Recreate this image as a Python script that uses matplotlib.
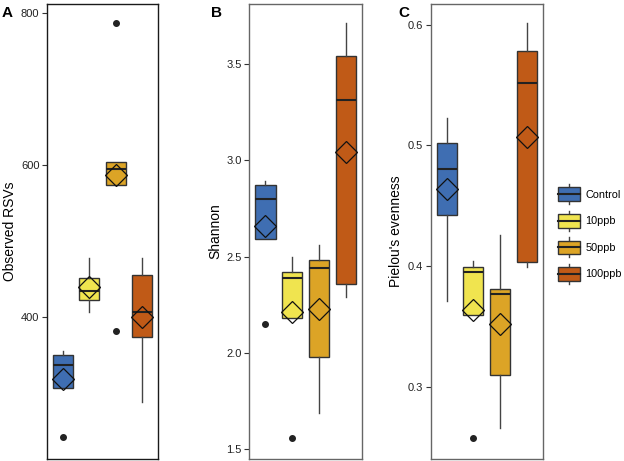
import matplotlib.pyplot as plt
from matplotlib.legend_handler import HandlerBase
from matplotlib.patches import Rectangle
from matplotlib.lines import Line2D

plt.rcParams["font.family"] = ["Liberation Sans", "DejaVu Sans"]

groups = ["Control", "10ppb", "50ppb", "100ppb"]
colors = ["#3F6EB2", "#F0E44F", "#DCA426", "#C05A17"]

# panel A: Observed RSVs
rsv_q1 = [306, 422, 573, 373]
rsv_med = [337, 434, 595, 406]
rsv_q3 = [349, 451, 604, 455]
rsv_lo = [306, 406, 573, 287]
rsv_hi = [355, 478, 604, 478]
rsv_mean = [318, 439, 587, 400]
rsv_out = [[241], [], [787, 381], []]

# panel B: Shannon
sh_q1 = [2.59, 2.18, 1.98, 2.36]
sh_med = [2.80, 2.39, 2.44, 3.31]
sh_q3 = [2.87, 2.42, 2.48, 3.54]
sh_lo = [2.59, 2.18, 1.69, 2.29]
sh_hi = [2.89, 2.50, 2.56, 3.71]
sh_mean = [2.66, 2.21, 2.23, 3.04]
sh_out = [[2.15], [1.56], [], []]

# panel C: Pielou's evenness
pe_q1 = [0.4425, 0.359, 0.310, 0.4036]
pe_med = [0.480, 0.395, 0.377, 0.5515]
pe_q3 = [0.502, 0.399, 0.381, 0.578]
pe_lo = [0.371, 0.359, 0.266, 0.399]
pe_hi = [0.5225, 0.404, 0.426, 0.601]
pe_mean = [0.464, 0.3634, 0.352, 0.507]
pe_out = [[], [0.2574], [], []]


def make_stats(q1, med, q3, lo, hi, mean, out):
    stats = []
    for i in range(len(groups)):
        stats.append({"q1": q1[i], "med": med[i], "q3": q3[i],
                      "whislo": lo[i], "whishi": hi[i],
                      "mean": mean[i], "fliers": out[i]})
    return stats


def draw_panel(ax, stats, ylabel, yticks, ylim, border):
    parts = ax.bxp(stats, positions=range(1, 5), widths=0.75, patch_artist=True,
                   showmeans=True, showcaps=False,
                   boxprops=dict(edgecolor="#333333", linewidth=1.0),
                   medianprops=dict(color="#222222", linewidth=1.5),
                   whiskerprops=dict(color="#444444", linewidth=1.0),
                   flierprops=dict(marker="o", markerfacecolor="#222222",
                                   markeredgecolor="#222222", markersize=4),
                   meanprops=dict(marker="D", markerfacecolor="none",
                                  markeredgecolor="#111111", markersize=11,
                                  markeredgewidth=0.9))
    for box, c in zip(parts["boxes"], colors):
        box.set_facecolor(c)
    ax.set_xlim(0.4, 4.6)
    ax.set_ylim(*ylim)
    ax.set_xticks([])
    ax.set_yticks(yticks)
    ax.tick_params(axis="y", length=3.5, color="#333333", labelsize=8,
                   labelcolor="#222222", pad=2)
    for s in ax.spines.values():
        s.set_color(border)
        s.set_linewidth(1.0)
    ax.set_ylabel(ylabel, fontsize=10, labelpad=3)


class BoxKeyHandler(HandlerBase):
    def create_artists(self, legend, orig_handle, xdescent, ydescent,
                       width, height, fontsize, trans):
        c = orig_handle.get_facecolor()
        x0 = -xdescent
        y0 = -ydescent
        rect = Rectangle((x0, y0), width, height, facecolor=c,
                         edgecolor="#333333", linewidth=1.0, transform=trans)
        med = Line2D([x0, x0 + width], [y0 + height / 2] * 2,
                     color="#222222", linewidth=1.5, transform=trans)
        wu = Line2D([x0 + width / 2] * 2, [y0 + height, y0 + height * 1.25],
                    color="#444444", linewidth=1.0, transform=trans)
        wd = Line2D([x0 + width / 2] * 2, [y0, y0 - height * 0.25],
                    color="#444444", linewidth=1.0, transform=trans)
        return [wu, wd, rect, med]


fig = plt.figure(figsize=(6.24, 4.61), dpi=100)
ax_a = fig.add_axes([0.0755, 0.0043, 0.1777, 0.987])
ax_b = fig.add_axes([0.3995, 0.0043, 0.1811, 0.987])
ax_c = fig.add_axes([0.690, 0.0043, 0.1795, 0.987])

draw_panel(ax_a, make_stats(rsv_q1, rsv_med, rsv_q3, rsv_lo, rsv_hi, rsv_mean, rsv_out),
           "Observed RSVs", [400, 600, 800], (212.5, 812), "#1a1a1a")
draw_panel(ax_b, make_stats(sh_q1, sh_med, sh_q3, sh_lo, sh_hi, sh_mean, sh_out),
           "Shannon", [1.5, 2.0, 2.5, 3.0, 3.5], (1.45, 3.81), "#666666")
draw_panel(ax_c, make_stats(pe_q1, pe_med, pe_q3, pe_lo, pe_hi, pe_mean, pe_out),
           "Pielou's evenness", [0.3, 0.4, 0.5, 0.6], (0.24, 0.617), "#666666")

for letter, xpix in zip(["A", "B", "C"], [2, 211, 398]):
    fig.text(xpix / 624, 1 - 6 / 461, letter, fontsize=11, fontweight="bold",
             ha="left", va="top")

handles = [Rectangle((0, 0), 1, 1, facecolor=c) for c in colors]
leg = fig.legend(handles, groups, loc="center left", bbox_to_anchor=(0.879, 0.4924),
                 frameon=False, fontsize=7.8, handler_map={Rectangle: BoxKeyHandler()},
                 handlelength=2.0, handleheight=1.55, labelspacing=1.2,
                 handletextpad=0.5)

fig.savefig("out.png", dpi=100)
